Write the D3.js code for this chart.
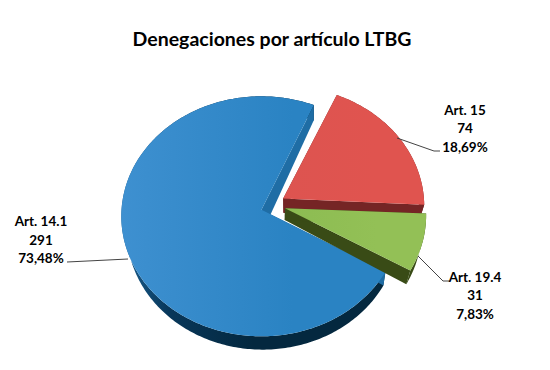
<!DOCTYPE html>
<html>
<head>
<meta charset="utf-8">
<script src="https://cdn.jsdelivr.net/npm/d3@7"></script>
<style>
  html, body { margin: 0; padding: 0; background: #fff; }
  svg { display: block; }
  text { font-family: Lato, "Open Sans", sans-serif; font-weight: 700; fill: #000; }
</style>
</head>
<body>
<div id="chart"></div>
<script>
// -------------------------------
// Data
// -------------------------------
const title = 'Denegaciones por artículo LTBG';
const categories = ['Art. 14.1', 'Art. 15', 'Art. 19.4'];
const counts = [291, 74, 31];

// -------------------------------
// Layout
// -------------------------------
const width = 550;
const height = 370;
const rad = (d) => d * Math.PI / 180;

// the 3d look: top and bottom faces are ellipses with their own centres
const top3d = { cx: 273.5, cy: 212.5, rx: 140, ry: 120, explodeX: 13, explodeY: 11, ax: 273, ay: 205.5, aExplode: 12.3 };
const bot3d = { cx: 274, cy: 226.5, rx: 136, ry: 119, explodeX: 12, explodeY: 12, ax: 276, ay: 218, aExplode: 9 };

const styles = [
  { top: ['#3e90d0', '#2a83c3'], rim: ['#1b5f90', '#08375a', '#04283f', '#04283f'], cap: '#1f6da5' },
  { top: ['#dd5450', '#e0544f'], rim: ['#752525', '#752525', '#752525', '#752525'], cap: '#752525' },
  { top: ['#8cbc52', '#93c056'], rim: ['#394b16', '#394b16', '#394b16', '#394b16'], cap: '#394b16' }
];

const labels = [
  { x: 41, y: [226, 245, 263], line: [[67, 262], [128, 259]] },
  { x: 465, y: [115, 133, 152], line: [[397, 138], [434, 151], [440, 151]] },
  { x: 475, y: [282, 300, 319], line: [[418, 256], [443, 281], [450, 281]] }
];

// -------------------------------
// Pie geometry
// -------------------------------
const pie = d3.pie()
  .sort(null)
  .startAngle(rad(117.5))
  .endAngle(rad(117.5 + 360));

const slices = pie(counts);
const total = d3.sum(counts);
const pct = d3.formatLocale({ decimal: ',', thousands: '.', grouping: [3], currency: ['', ''] }).format('.2f');

function center(face, mid) {
  return [face.cx + face.explodeX * Math.sin(mid), face.cy - face.explodeY * Math.cos(mid)];
}

function apex(face, mid) {
  return [face.ax + face.aExplode * Math.sin(mid), face.ay - face.aExplode * Math.cos(mid)];
}

function rimPoints(face, s) {
  const mid = (s.startAngle + s.endAngle) / 2;
  const [cx, cy] = center(face, mid);
  const steps = Math.ceil((s.endAngle - s.startAngle) / rad(1));
  return d3.range(steps + 1).map((i) => {
    const a = s.startAngle + (s.endAngle - s.startAngle) * i / steps;
    return [cx + face.rx * Math.sin(a), cy - face.ry * Math.cos(a)];
  });
}

const line = d3.line();
const closed = (pts) => line(pts) + 'Z';

// -------------------------------
// Render
// -------------------------------
const svg = d3.select('#chart')
  .append('svg')
  .attr('width', width)
  .attr('height', height)
  .attr('viewBox', `0 0 ${width} ${height}`);

const defs = svg.append('defs');

styles.forEach((st, i) => {
  const topGrad = defs.append('linearGradient')
    .attr('id', `top-${i}`)
    .attr('gradientUnits', 'objectBoundingBox');
  topGrad.append('stop').attr('offset', '0%').attr('stop-color', st.top[0]);
  topGrad.append('stop').attr('offset', '65%').attr('stop-color', st.top[1]);

  const rimGrad = defs.append('linearGradient')
    .attr('id', `rim-${i}`)
    .attr('gradientUnits', 'objectBoundingBox');
  [0, 0.18, 0.5, 1].forEach((o, j) => {
    rimGrad.append('stop').attr('offset', o).attr('stop-color', st.rim[j]);
  });
});

const groups = svg.append('g')
  .selectAll('g')
  .data(slices)
  .join('g')
  .attr('class', 'slice');

groups.each(function (s, i) {
  const g = d3.select(this);
  const mid = (s.startAngle + s.endAngle) / 2;
  const topRim = rimPoints(top3d, s);
  const botRim = rimPoints(bot3d, s);
  const topApex = apex(top3d, mid);
  const botApex = apex(bot3d, mid);

  // outer wall
  g.append('path')
    .attr('d', closed([...topRim, ...botRim.slice().reverse()]))
    .attr('fill', `url(#rim-${i})`);

  // cut walls
  g.append('path')
    .attr('d', closed([topApex, topRim[topRim.length - 1], botRim[botRim.length - 1], botApex]))
    .attr('fill', styles[i].cap);
  g.append('path')
    .attr('d', closed([topApex, topRim[0], botRim[0], botApex]))
    .attr('fill', styles[i].cap);

  // top face
  g.append('path')
    .attr('d', closed([topApex, ...topRim]))
    .attr('fill', `url(#top-${i})`);
});

// leader lines
svg.append('g')
  .selectAll('path')
  .data(labels)
  .join('path')
  .attr('d', (d) => line(d.line))
  .attr('fill', 'none')
  .attr('stroke', '#444')
  .attr('stroke-width', 1);

// labels
const labelGroups = svg.append('g')
  .selectAll('text')
  .data(labels)
  .join('text')
  .attr('text-anchor', 'middle')
  .attr('font-size', 13.5);

labelGroups.each(function (d, i) {
  const rows = [categories[i], counts[i], `${pct(counts[i] / total * 100)}%`];
  d3.select(this).selectAll('tspan')
    .data(rows)
    .join('tspan')
    .attr('x', d.x)
    .attr('y', (_, j) => d.y[j])
    .text((r) => r);
});

svg.append('text')
  .attr('x', 272)
  .attr('y', 46)
  .attr('text-anchor', 'middle')
  .attr('font-size', 19.5)
  .text(title);
</script>
</body>
</html>
